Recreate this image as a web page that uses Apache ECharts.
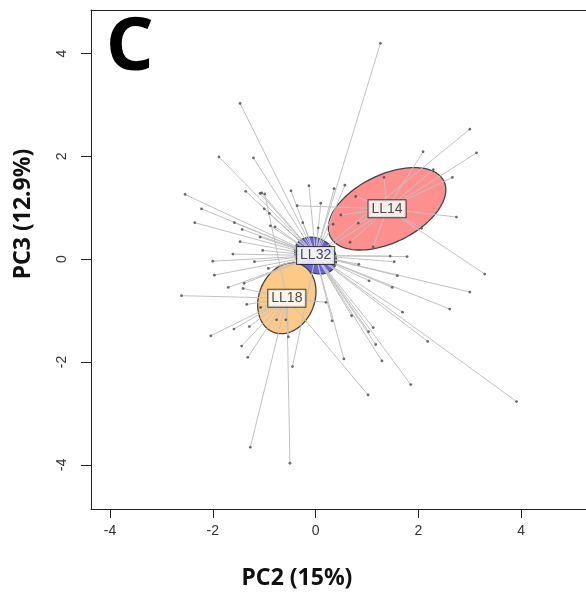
<!DOCTYPE html>
<html>
<head>
<meta charset="utf-8">
<script src="https://cdn.jsdelivr.net/npm/echarts@6/dist/echarts.min.js"></script>
<style>
html,body{margin:0;padding:0;background:#fff;}
#chart{width:586px;height:593px;}
</style>
</head>
<body>
<div id="chart"></div>
<script>
// ---- data ----
const groupNames = ['LL14', 'LL32', 'LL18'];
const xTicks = [-4, -2, 0, 2, 4];
const yTicks = [-4, -2, 0, 2, 4];

// group centroids (PC2, PC3)
const ll14Center = [1.39, 0.98];
const ll32Center = [0.0, 0.07];
const ll18Center = [-0.56, -0.76];

// ellipse shape per group: [semi-major, semi-minor, angle in degrees]
const ll14Ellipse = [1.23, 0.66, 26];
const ll32Ellipse = [0.43, 0.33, -30];
const ll18Ellipse = [0.71, 0.54, 68];

// individual points per group
const ll14Points = [
  [-0.36, 1.04], [3.29, -0.29], [1.33, 1.59], [0.78, 1.22], [0.49, 0.86],
  [0.83, 0.70], [0.67, 0.33], [1.12, 0.24], [2.74, 0.82], [2.06, 0.60],
  [2.29, 1.74], [2.66, 1.59], [2.09, 2.09]
];
const ll18Points = [
  [-0.99, 1.27], [-1.41, -0.57], [-2.61, -0.71], [-1.34, -0.88], [-1.07, -0.94],
  [-2.04, -1.49], [-1.59, -1.36], [-1.29, -1.31], [-1.44, -1.69], [-1.32, -1.91],
  [-0.76, -1.18], [-0.58, -1.18], [-0.53, -1.51], [-1.27, -3.66], [-0.50, -3.97],
  [0.20, -0.84], [1.02, -2.64]
];
const ll32Points = [
  [1.26, 4.20], [-1.47, 3.03], [-1.88, 1.99], [-1.21, 1.97], [-2.54, 1.26],
  [-1.36, 1.32], [-1.08, 1.28], [-1.05, 1.29], [-0.48, 1.33], [-0.13, 1.43],
  [0.36, 1.37], [0.57, 1.44], [0.10, 1.09], [-2.22, 0.98], [-1.00, 0.98],
  [-0.90, 0.89], [-2.35, 0.71], [-1.58, 0.71], [-1.43, 0.58], [-0.79, 0.63],
  [-0.88, 0.65], [-1.08, 0.43], [-1.47, 0.34], [-0.25, 0.71], [0.05, 0.61],
  [0.34, 0.68], [-1.03, 0.17], [-1.61, 0.10], [-2.00, -0.04], [-1.19, -0.05],
  [-1.97, -0.31], [-0.92, -0.18], [-1.70, -0.55], [-1.39, -0.47], [-0.45, -2.09],
  [0.32, -1.20], [0.70, -1.10], [0.55, -1.94], [1.04, -0.42], [1.12, -1.33],
  [1.03, -1.41], [1.17, -1.66], [1.29, -1.98], [1.85, -2.44], [1.59, -0.32],
  [1.49, -0.55], [1.69, -1.03], [0.84, -0.10], [1.45, 0.06], [1.78, 0.05],
  [1.53, -0.05], [3.00, -0.64], [2.61, -0.97], [2.18, -1.60], [3.91, -2.77],
  [3.00, 2.53], [3.13, 2.07]
];

// ---- build chart ----
const groups = [
  { name: groupNames[0], center: ll14Center, ell: ll14Ellipse, pts: ll14Points, fill: '#fd8f8f' },
  { name: groupNames[1], center: ll32Center, ell: ll32Ellipse, pts: ll32Points, fill: '#6464e2' },
  { name: groupNames[2], center: ll18Center, ell: ll18Ellipse, pts: ll18Points, fill: '#fcca86' }
];

const ellipseData = groups.map(g => [g.center[0], g.center[1], g.ell[0], g.ell[1], g.ell[2]]);
const ellipseFill = groups.map(g => g.fill);

const starData = [];
const pointData = [];
groups.forEach(g => {
  g.pts.forEach(p => {
    starData.push({ coords: [p, g.center] });
    pointData.push(p);
  });
});
const labelData = groups.map(g => ({ value: g.center, name: g.name }));

const chart = echarts.init(document.getElementById('chart'), null, { renderer: 'canvas' });

const X_MIN = -4.37, X_MAX = 5.26;
const option = {
  animation: false,
  backgroundColor: '#fff',
  grid: {
    left: 91, top: 10, right: 0, bottom: 84,
    show: false, containLabel: false
  },
  xAxis: [{
    type: 'value', min: X_MIN, max: X_MAX, position: 'bottom',
    splitLine: { show: false },
    axisLine: { show: true, onZero: false, lineStyle: { color: '#222', width: 1 } },
    axisTick: { show: true, length: 9, customValues: xTicks, lineStyle: { color: '#222' } },
    axisLabel: { show: true, customValues: xTicks, margin: 15, fontSize: 14,
      fontFamily: 'Liberation Sans', color: '#333' }
  }, {
    type: 'value', min: X_MIN, max: X_MAX, position: 'top',
    splitLine: { show: false },
    axisLine: { show: true, onZero: false, lineStyle: { color: '#222', width: 1 } },
    axisTick: { show: false }, axisLabel: { show: false }
  }],
  yAxis: {
    type: 'value', min: -4.86, max: 4.848,
    splitLine: { show: false },
    axisLine: { show: true, onZero: false, lineStyle: { color: '#222', width: 1 } },
    axisTick: { show: true, length: 10, customValues: yTicks, lineStyle: { color: '#222' } },
    axisLabel: { show: true, customValues: yTicks, margin: 22, fontSize: 14, rotate: 90,
      fontFamily: 'Liberation Sans', color: '#333' }
  },
  graphic: [
    { type: 'text', left: 106, top: 12, z: 100,
      style: { text: 'C', font: 'bold 74px "Noto Sans"', fill: '#000' } },
    { type: 'text', x: 297, y: 578, z: 100,
      style: { text: 'PC2 (15%)', font: 'bold 23px "Noto Sans"', fill: '#111',
        textAlign: 'center', textVerticalAlign: 'middle' } },
    { type: 'text', x: 23, y: 214, rotation: Math.PI / 2, z: 100,
      style: { text: 'PC3 (12.9%)', font: 'bold 23px "Noto Sans"', fill: '#111',
        textAlign: 'center', textVerticalAlign: 'middle' } }
  ],
  series: [
    {
      type: 'custom', z: 1, silent: true,
      data: ellipseData,
      renderItem: function (params, api) {
        const cx = api.value(0), cy = api.value(1), a = api.value(2), b = api.value(3);
        const th = api.value(4) * Math.PI / 180;
        const pts = [];
        for (let i = 0; i < 120; i++) {
          const t = i / 120 * Math.PI * 2;
          const x = cx + a * Math.cos(t) * Math.cos(th) - b * Math.sin(t) * Math.sin(th);
          const y = cy + a * Math.cos(t) * Math.sin(th) + b * Math.sin(t) * Math.cos(th);
          pts.push(api.coord([x, y]));
        }
        return {
          type: 'polygon',
          shape: { points: pts },
          style: { fill: ellipseFill[params.dataIndex], stroke: '#444', lineWidth: 1.3 }
        };
      }
    },
    {
      type: 'lines', coordinateSystem: 'cartesian2d', z: 2, silent: true,
      data: starData,
      lineStyle: { color: '#c2c2c2', width: 1, opacity: 1 }
    },
    {
      type: 'scatter', z: 3, silent: true,
      data: pointData, symbol: 'circle', symbolSize: 2.8,
      itemStyle: { color: '#4a4a4a' }
    },
    {
      type: 'scatter', z: 4, silent: true,
      data: labelData, symbolSize: 0,
      label: {
        show: true, position: 'inside', formatter: '{b}',
        fontFamily: 'Liberation Sans', fontSize: 14, color: '#222',
        backgroundColor: '#fff', borderColor: '#222', borderWidth: 1,
        padding: [2, 3, 1, 3]
      }
    }
  ]
};
chart.setOption(option);
</script>
</body>
</html>
